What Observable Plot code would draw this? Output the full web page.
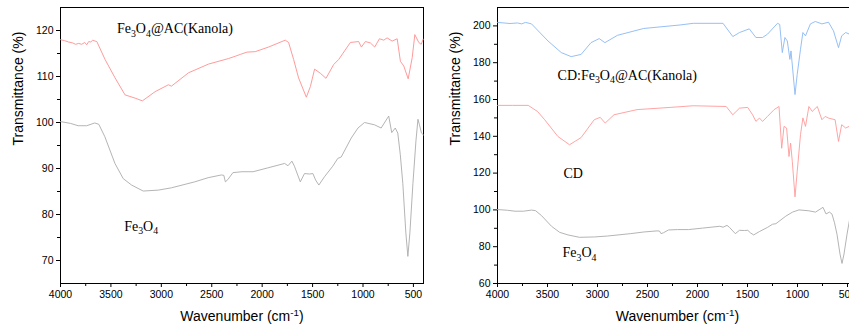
<!DOCTYPE html>
<html>
<head>
<meta charset="utf-8">
<script src="https://cdn.jsdelivr.net/npm/d3@7"></script>
<script src="https://cdn.jsdelivr.net/npm/@observablehq/plot@0.6"></script>
<style>
  html, body { margin: 0; padding: 0; background: #fff; overflow: hidden; }
  #wrap { position: relative; width: 849px; height: 333px; overflow: hidden; background: #fff; }
  #left, #right { position: absolute; top: 0; height: 333px; }
  #left { left: 0; width: 430px; }
  #right { left: 436px; width: 428px; }
  #wrap svg { max-width: none !important; display: block; }
</style>
</head>
<body>
<div id="wrap"><div id="left"></div><div id="right"></div></div>
<script>
// ---------- data ----------
// Fe3O4 spectrum (shared by both panels)
const fe3o4W = [4000,3900,3825,3740,3660,3620,3560,3460,3378,3295,3180,3030,2900,2668,2536,2404,2380,2365,2340,2290,2200,2090,1950,1777,1744,1705,1680,1622,1580,1530,1497,1470,1438,1382,1300,1250,1216,1117,1050,985,886,820,745,715,680,655,630,605,575,555,535,505,475,455,440,420,400];
const fe3o4T = [100.2,99.8,99.3,99.3,99.9,99.6,96.9,91.1,87.8,86.4,85.1,85.3,85.8,87.1,88.0,88.6,88.5,87.1,87.6,89.1,89.3,89.3,90.1,91.1,90.6,91.6,90.5,87.1,88.9,88.8,88.9,87.5,86.4,88.2,90.5,92.2,92.5,96.6,98.8,100.0,99.5,98.8,101.4,97.8,98.8,97.7,93.0,86.7,76.0,70.9,76.0,86.7,96.0,100.7,99.5,97.7,97.3];

// Fe3O4@AC(Kanola) spectrum (left panel, red)
const acW = [4000,3960,3920,3880,3850,3820,3790,3760,3740,3720,3700,3680,3657,3640,3558,3459,3360,3260,3188,3062,2930,2900,2731,2532,2334,2267,2217,2151,2069,1937,1771,1738,1688,1639,1562,1522,1480,1423,1367,1291,1241,1125,1043,1016,976,927,884,837,794,761,711,661,629,596,552,512,486,447,423,403];
const acT = [118.0,117.8,117.5,117.3,117.0,117.2,117.0,117.4,116.9,117.6,117.5,117.9,117.7,117.6,113.7,109.7,106.0,105.3,104.7,106.7,108.2,107.9,110.8,112.7,113.9,114.4,114.8,115.3,115.4,116.4,117.9,117.4,113.7,109.7,105.5,107.8,111.6,110.7,109.6,112.6,113.7,117.4,117.6,116.4,117.6,117.3,116.4,118.2,117.9,118.4,117.7,118.2,113.3,112.3,109.5,114.1,119.1,117.4,117.0,118.1];

// CD spectrum (right panel, red)
const cdW = [4000,3850,3693,3600,3528,3396,3280,3164,3033,2973,2923,2835,2604,2274,2043,1713,1647,1580,1498,1449,1416,1380,1350,1300,1234,1185,1158,1135,1109,1085,1069,1052,1025,1003,970,946,920,886,853,802,756,723,690,624,590,558,518,480,440,400];
const cdT = [156.8,156.8,156.8,153.5,149.0,139.9,135.4,139.3,149.0,150.3,147.2,151.7,154.5,155.7,156.6,156.2,151.7,155.3,155.7,151.7,148.1,149.9,148.1,150.8,154.5,156.2,133.5,145.4,144.5,129.0,136.3,126.3,107.1,120.8,140.9,150.0,145.4,156.2,153.5,156.2,149.0,150.8,149.9,149.0,137.2,146.3,144.5,145.5,144.8,145.2];

// CD:Fe3O4@AC(Kanola) spectrum (right panel, blue)
const cdacW = [4000,3875,3800,3758,3720,3660,3495,3362,3263,3164,3065,2983,2926,2800,2538,2174,2043,1745,1647,1580,1482,1416,1350,1300,1200,1178,1152,1126,1102,1076,1065,1025,1003,970,946,920,871,822,756,690,640,590,558,518,480,440,400];
const cdacT = [201.9,201.3,201.6,201.1,201.9,201.1,191.8,185.5,183.3,184.5,190.9,193.1,190.9,194.9,198.6,200.5,201.4,201.4,194.2,196.4,198.4,193.7,193.7,195.5,201.4,200.8,185.5,193.7,191.8,181.8,186.4,162.7,173.6,187.3,196.4,194.6,201.1,202.4,201.1,202.0,197.3,188.2,194.6,196.4,195.5,196.5,196.0];

// tick values
const xMajor = [4000,3500,3000,2500,2000,1500,1000,500];
const xMinor = [3750,3250,2750,2250,1750,1250,750];
const yLeftMajor = [70,80,90,100,110,120];
const yLeftMinor = [75,85,95,105,115];
const yRightMajor = [60,80,100,120,140,160,180,200];
const yRightMinor = [70,90,110,130,150,170,190];

// annotations (anchored in data coordinates)
const leftLabels = [
  {text: "Fe3O4@AC(Kanola)", w: 3440, t: 120.4},
  {text: "Fe3O4", w: 3369, t: 77.4}
];
const rightLabels = [
  {text: "CD:Fe3O4@AC(Kanola)", w: 3399, t: 173.2},
  {text: "CD", w: 3340, t: 119.9},
  {text: "Fe3O4", w: 3350, t: 76.7}
];
const xTitle = "Wavenumber (cm-1)";
const yTitle = "Transmittance (%)";

// ---------- helpers ----------
const zip = (W, T) => W.map((w, i) => ({w, t: T[i]}));
const fe3o4 = zip(fe3o4W, fe3o4T);
const ac = zip(acW, acT);
const cd = zip(cdW, cdT);
const cdac = zip(cdacW, cdacT);

const sans = "'Liberation Sans', Arial, Helvetica, sans-serif";
const serif = "'Liberation Serif', 'Times New Roman', Times, serif";
const plain = d => String(d);

function axes(yMajor, yMinor) {
  return [
    Plot.axisX({ticks: xMajor, tickSize: 4, tickPadding: 3, tickFormat: plain, label: null, fontSize: 10.5}),
    Plot.axisX({ticks: xMinor, tickSize: 3, tickFormat: () => "", label: null}),
    Plot.axisY({ticks: yMajor, tickSize: 4, tickPadding: 3, tickFormat: plain, label: null, fontSize: 10.5}),
    Plot.axisY({ticks: yMinor, tickSize: 3, tickFormat: () => "", label: null}),
    Plot.frame({stroke: "#000", strokeWidth: 1}),
    Plot.text([xTitle], {frameAnchor: "bottom", dy: 37, fontSize: 14, fontFamily: sans, fill: "#000"}),
    Plot.text([yTitle], {frameAnchor: "left", dx: -42, rotate: -90, fontSize: 14, fontFamily: sans, fill: "#000"})
  ];
}

function richify(svg) {
  const NS = "http://www.w3.org/2000/svg";
  svg.querySelectorAll('g[aria-label="text"] text').forEach(t => {
    const s = t.textContent;
    const parts = s.match(/cm-1|\d|[^\d]+?(?=cm-1|\d|$)/g);
    if (!parts || parts.length < 2) return;
    t.textContent = "";
    let shift = 0;
    for (const p of parts) {
      let segs;
      if (p === "cm-1") segs = [["cm", 0, false], ["-1", -5, true]];
      else if (/^\d$/.test(p)) segs = [[p, 3.5, true]];
      else segs = [[p, 0, false]];
      for (const [txt, target, small] of segs) {
        const ts = document.createElementNS(NS, "tspan");
        ts.setAttribute("dy", target - shift);
        shift = target;
        if (small) ts.setAttribute("font-size", "0.7em");
        ts.textContent = txt;
        t.appendChild(ts);
      }
    }
  });
}

// ---------- left panel ----------
const left = Plot.plot({
  width: 430, height: 333,
  marginLeft: 60, marginRight: 7, marginTop: 7, marginBottom: 50,
  style: {fontFamily: sans, fontSize: "10.5px", color: "#000", background: "#fff"},
  x: {domain: [4000, 400]},
  y: {domain: [65, 125]},
  marks: [
    ...axes(yLeftMajor, yLeftMinor),
    Plot.line(ac, {x: "w", y: "t", stroke: "#ff8f8f", strokeWidth: 0.9}),
    Plot.line(fe3o4, {x: "w", y: "t", stroke: "#ababab", strokeWidth: 0.9}),
    Plot.text(leftLabels, {x: "w", y: "t", text: "text", textAnchor: "start", fontSize: 14, fontFamily: serif, fill: "#000"})
  ]
});
richify(left);
document.getElementById("left").appendChild(left);

// ---------- right panel ----------
const right = Plot.plot({
  width: 428, height: 333,
  marginLeft: 61, marginRight: 7, marginTop: 7, marginBottom: 50,
  style: {fontFamily: sans, fontSize: "10.5px", color: "#000", background: "#fff"},
  x: {domain: [4000, 400]},
  y: {domain: [60, 210]},
  marks: [
    ...axes(yRightMajor, yRightMinor),
    Plot.line(cdac, {x: "w", y: "t", stroke: "#8ab8f4", strokeWidth: 0.9}),
    Plot.line(cd, {x: "w", y: "t", stroke: "#ff9a9a", strokeWidth: 0.9}),
    Plot.line(fe3o4, {x: "w", y: "t", stroke: "#ababab", strokeWidth: 0.9}),
    Plot.text(rightLabels, {x: "w", y: "t", text: "text", textAnchor: "start", fontSize: 14, fontFamily: serif, fill: "#000"})
  ]
});
richify(right);
document.getElementById("right").appendChild(right);
</script>
</body>
</html>
